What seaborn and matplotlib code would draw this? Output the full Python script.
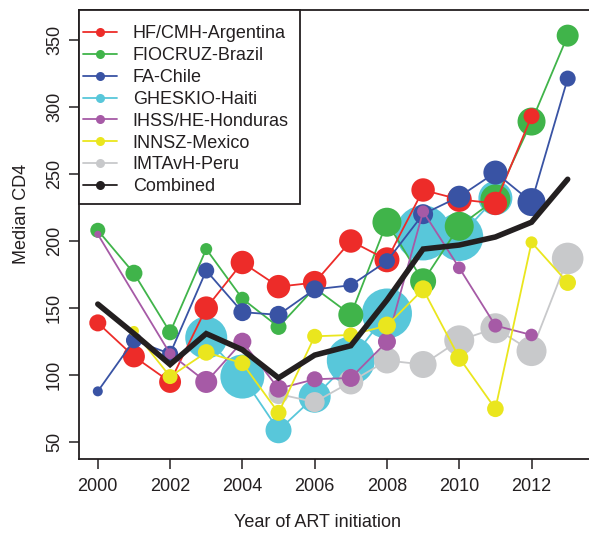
import matplotlib
matplotlib.use("Agg")
import matplotlib.pyplot as plt
from matplotlib.lines import Line2D
from matplotlib.patches import Rectangle
import pandas as pd
import seaborn as sns

# ---- data: median CD4 at ART initiation, by site and year ----
years_arg = list(range(2000, 2013))
cd4_arg = [139, 114, 95, 150, 184, 166, 169, 200, 186, 238, 231, 228, 293]
n_arg = [290, 480, 480, 550, 550, 550, 550, 550, 625, 550, 625, 550, 256]

years_bra = list(range(2000, 2014))
cd4_bra = [208, 176, 132, 194, 157, 136, 165, 145, 214, 170, 211, 231, 289, 353]
n_bra = [225, 289, 256, 144, 196, 256, 100, 625, 841, 676, 841, 900, 784, 484]

years_chi = list(range(2000, 2014))
cd4_chi = [88, 126, 116, 178, 147, 145, 164, 167, 185, 220, 233, 251, 229, 321]
n_chi = [100, 256, 256, 256, 324, 324, 324, 225, 256, 400, 484, 576, 784, 256]

years_hai = list(range(2003, 2012))
cd4_hai = [128, 99, 59, 84, 111, 146, 206, 203, 232]
n_hai = [1764, 1936, 676, 1024, 2304, 2500, 3025, 2304, 1156]

years_hon = [2000] + list(range(2002, 2013))
cd4_hon = [205, 116, 95, 125, 90, 97, 98, 125, 222, 180, 137, 130]
n_hon = [49, 121, 484, 324, 324, 256, 324, 324, 144, 159, 196, 159]

years_mex = list(range(2001, 2014))
cd4_mex = [133, 99, 117, 109, 72, 129, 130, 137, 164, 113, 75, 199, 169]
n_mex = [100, 225, 276, 256, 256, 225, 225, 324, 324, 324, 276, 144, 276]

years_per = list(range(2005, 2014))
cd4_per = [86, 80, 95, 111, 108, 126, 135, 118, 187]
n_per = [400, 400, 625, 676, 729, 900, 900, 900, 999]

years_all = list(range(2000, 2014))
cd4_all = [153, 131, 108, 131, 119, 98, 115, 122, 156, 194, 197, 203, 214, 246]

site_names = ["HF/CMH-Argentina", "FIOCRUZ-Brazil", "FA-Chile", "GHESKIO-Haiti",
              "IHSS/HE-Honduras", "INNSZ-Mexico", "IMTAvH-Peru"]
site_colors = ["#ED2C29", "#40B44A", "#3953A4", "#58C7DA",
               "#A65AA6", "#EAE61E", "#C8C9CB"]
combined_name = "Combined"
combined_color = "#231F20"

site_data = {
    "HF/CMH-Argentina": (years_arg, cd4_arg, n_arg),
    "FIOCRUZ-Brazil": (years_bra, cd4_bra, n_bra),
    "FA-Chile": (years_chi, cd4_chi, n_chi),
    "GHESKIO-Haiti": (years_hai, cd4_hai, n_hai),
    "IHSS/HE-Honduras": (years_hon, cd4_hon, n_hon),
    "INNSZ-Mexico": (years_mex, cd4_mex, n_mex),
    "IMTAvH-Peru": (years_per, cd4_per, n_per),
}

frames = []
for name, (yrs, vals, ns) in site_data.items():
    frames.append(pd.DataFrame({"site": name, "year": yrs, "cd4": vals, "patients": ns}))
df = pd.concat(frames, ignore_index=True)
df_all = pd.DataFrame({"year": years_all, "cd4": cd4_all})

# ---- style ----
sns.set_theme(style="white")
plt.rcParams["font.family"] = ["Liberation Sans", "DejaVu Sans"]
plt.rcParams["text.color"] = "#231F20"
FS = 13
INK = "#231F20"

fig = plt.figure(figsize=(5.89, 5.36), dpi=100)
ax = fig.add_axes([79 / 589, 77 / 536, 510 / 589, 449 / 536])

color_of = dict(zip(site_names, site_colors))
# larger cohorts underneath, smaller ones on top
draw_order = ["GHESKIO-Haiti", "IMTAvH-Peru", "FIOCRUZ-Brazil", "HF/CMH-Argentina",
              "FA-Chile", "IHSS/HE-Honduras", "INNSZ-Mexico"]

z = 2
for name in draw_order:
    sub = df[df["site"] == name]
    sns.lineplot(data=sub, x="year", y="cd4", color=color_of[name], lw=1.3,
                 estimator=None, legend=False, ax=ax, zorder=z)
    sns.scatterplot(data=sub, x="year", y="cd4", size="patients",
                    sizes=(0, 2073.6), size_norm=(0, 4000),
                    color=color_of[name], edgecolor="none", linewidth=0,
                    legend=False, ax=ax, zorder=z + 0.5)
    z += 1

sns.lineplot(data=df_all, x="year", y="cd4", color=combined_color, lw=4.0,
             estimator=None, legend=False, ax=ax, zorder=z + 1,
             solid_joinstyle="miter")

# ---- axes ----
ax.set_xlim(1999.48, 2013.59)
ax.set_ylim(37.6, 372.1)
ax.set_xticks(range(2000, 2013, 2))
ax.set_yticks(range(50, 351, 50))
ax.tick_params(axis="both", direction="out", length=7.5, width=1.1,
               color=INK, labelsize=FS, labelcolor=INK,
               bottom=True, left=True)
ax.tick_params(axis="x", pad=6)
ax.tick_params(axis="y", pad=4, labelrotation=90)
for lab in ax.get_yticklabels():
    lab.set_va("center")

for side in ["left", "bottom", "top"]:
    ax.spines[side].set_visible(True)
    ax.spines[side].set_color(INK)
    ax.spines[side].set_linewidth(1.3)
ax.spines["right"].set_visible(False)

ax.set_xlabel("Year of ART initiation", fontsize=FS, color=INK)
ax.set_ylabel("Median CD4", fontsize=FS, color=INK)
ax.xaxis.set_label_coords(0.4667, -0.1425)
ax.xaxis.label.set_va("center")
ax.yaxis.set_label_coords(-0.1137, 0.5457)
ax.yaxis.label.set_va("center")

# ---- legend (boxed in the upper-left corner) ----
ax.add_patch(Rectangle((0, (459 - 204) / 449), (300 - 79) / 510, (204 - 10) / 449,
                       transform=ax.transAxes, facecolor="white", edgecolor=INK,
                       linewidth=1.3, zorder=49, clip_on=False))
handles = [Line2D([], [], color=c, lw=1.3, marker="o", markersize=6.5,
                  markeredgewidth=0) for c in site_colors]
handles.append(Line2D([], [], color=combined_color, lw=1.3, marker="o",
                      markersize=6.5, markeredgewidth=0))
leg = ax.legend(handles, site_names + [combined_name], loc="upper left",
                bbox_to_anchor=((83 - 79) / 510, (459 - 25.2) / 449),
                borderaxespad=0, borderpad=0, fontsize=FS, frameon=False,
                handlelength=1.88, handletextpad=0.87, labelspacing=0.27)
leg.set_zorder(50)

fig.savefig("out.png", dpi=100)
